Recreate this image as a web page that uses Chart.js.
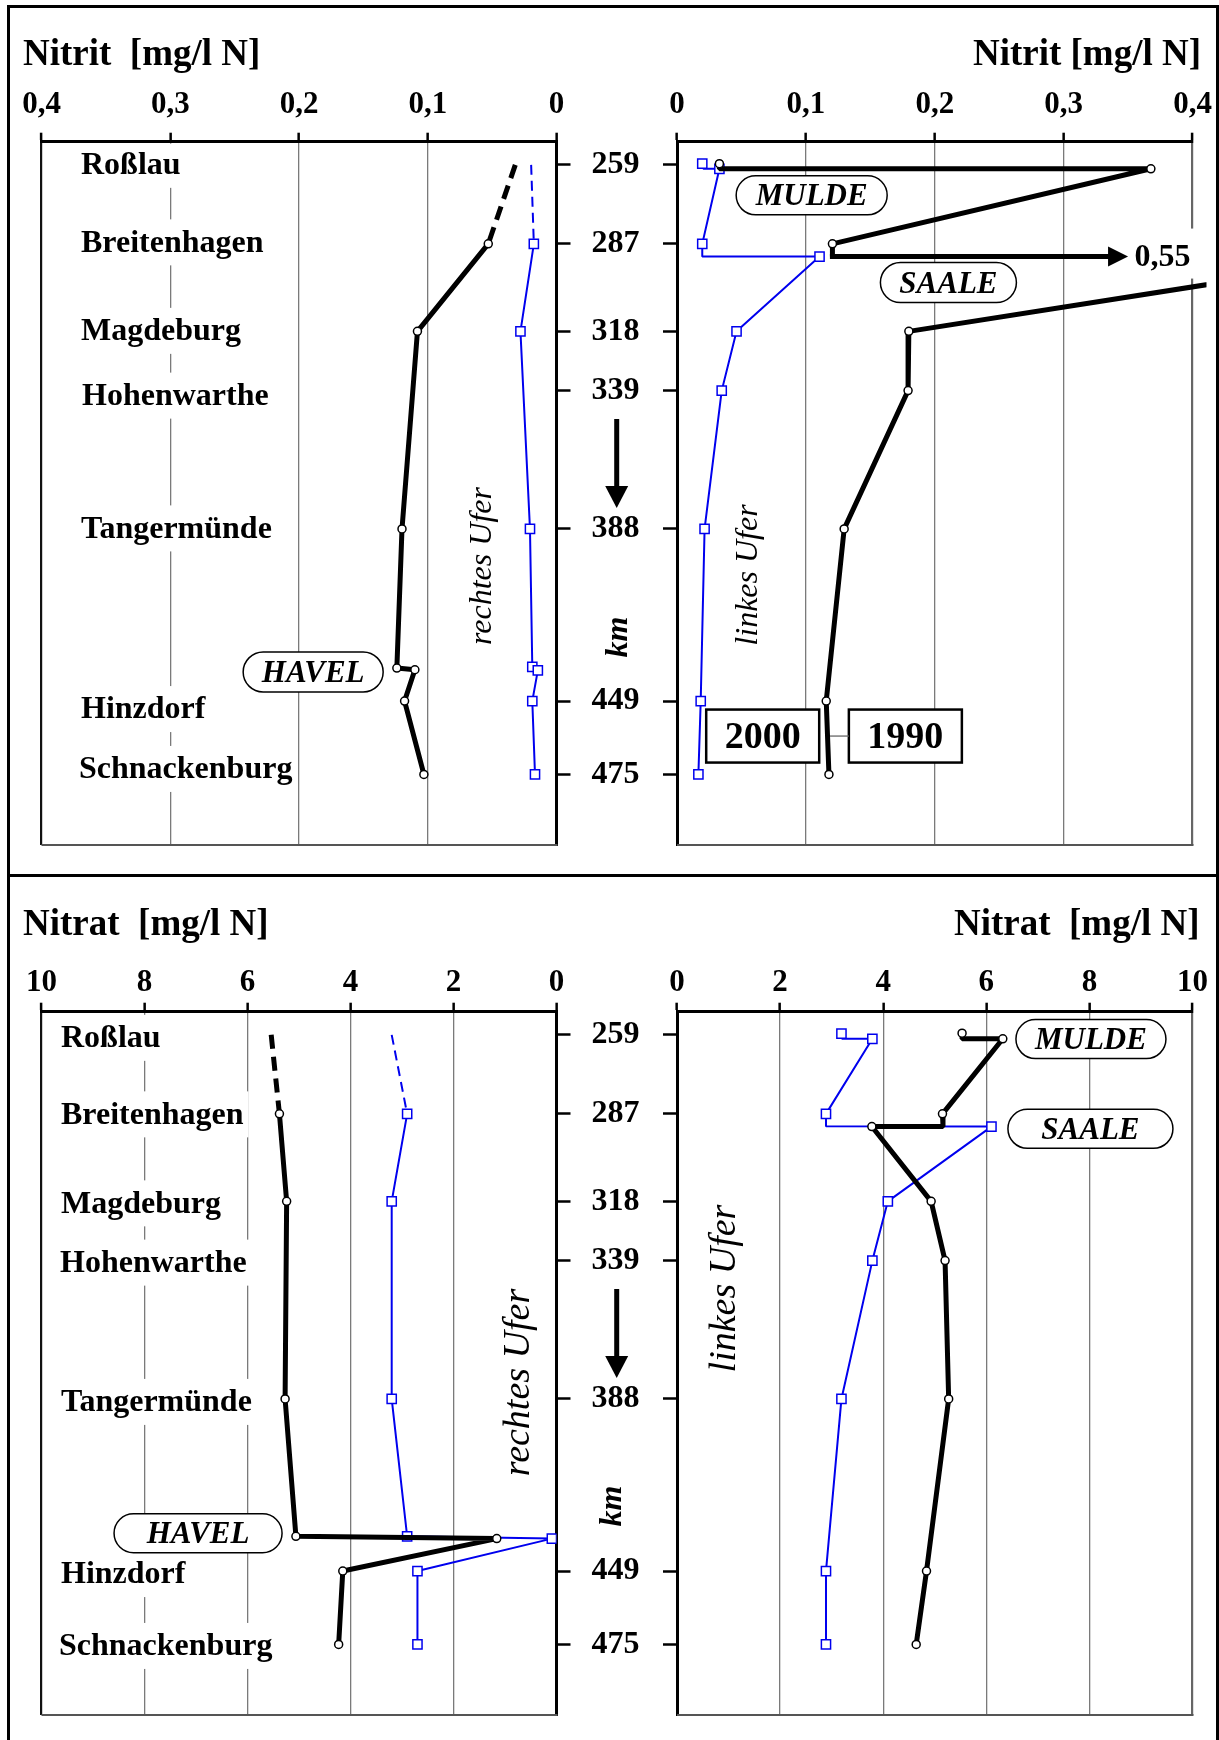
<!DOCTYPE html>
<html>
<head>
<meta charset="utf-8">
<script src="https://cdn.jsdelivr.net/npm/chart.js@4.4.1/dist/chart.umd.min.js"></script>
<style>
html,body{margin:0;padding:0;background:#fff;overflow:hidden;width:1219px;height:1740px;position:relative;}
canvas{position:absolute;}
#frame{position:absolute;left:7px;top:5px;width:1206px;height:1780px;border:3px solid #000;border-bottom:none;pointer-events:none;}
#divider{position:absolute;left:7px;top:874px;width:1212px;height:3px;background:#000;}
</style>
</head>
<body>
<canvas id="c1" width="640" height="886" style="left:0px;top:0px;width:640px;height:886px"></canvas>
<canvas id="c2" width="590" height="873" style="left:640px;top:0px;width:590px;height:873px"></canvas>
<canvas id="c3" width="640" height="879" style="left:0px;top:877px;width:640px;height:879px"></canvas>
<canvas id="c4" width="590" height="863" style="left:640px;top:877px;width:590px;height:863px"></canvas>
<div id="frame"></div>
<div id="divider"></div>
<script>
// ================= DATA =================
const stationNames = ['Roßlau', 'Breitenhagen', 'Magdeburg', 'Hohenwarthe', 'Tangermünde', 'Hinzdorf', 'Schnackenburg'];
const stationKm    = [259, 287, 318, 339, 388, 449, 475];
const nitritTickValues = [0, 0.1, 0.2, 0.3, 0.4];
const nitratTickValues = [0, 2, 4, 6, 8, 10];
const yearLabels = ['2000', '1990'];
const riverLabels = ['MULDE', 'SAALE', 'HAVEL'];

// Nitrit, rechtes Ufer (top left)
const nitritR1990Km     = [287, 318, 388, 437.3, 437.9, 449, 475];
const nitritR1990       = [0.053, 0.108, 0.120, 0.124, 0.110, 0.118, 0.103];
const nitritR1990DashKm = [259, 287];
const nitritR1990Dash   = [0.032, 0.053];
const nitritR2000Km     = [287, 318, 388, 436.9, 438.1, 449, 475];
const nitritR2000       = [0.0176, 0.028, 0.0206, 0.0188, 0.0145, 0.0188, 0.0167];
const nitritR2000DashKm = [259, 287];
const nitritR2000Dash   = [0.0197, 0.0176];

// Nitrit, linkes Ufer (top right)
const nitritL1990Km   = [258.6, 260.4, 260.4, 287, 291.5];
const nitritL1990     = [0.0329, 0.0329, 0.3677, 0.1206, 0.1206];
const nitritL1990Stn  = [1, 0, 1, 1, 0];
const nitritSaalePeak = 0.55;
const nitritL1990bKm  = [291.5, 318, 339, 388, 449, 475];
const nitritL1990b    = [nitritSaalePeak, 0.1799, 0.1793, 0.1297, 0.1158, 0.1179];
const nitritL1990bStn = [0, 1, 1, 1, 1, 1];
const nitritL2000Km   = [258.6, 260.4, 260.4, 287, 291.5, 291.5, 318, 339, 388, 449, 475];
const nitritL2000     = [0.0196, 0.0205, 0.0329, 0.0196, 0.0196, 0.1106, 0.0462, 0.0347, 0.0214, 0.0184, 0.0166];
const nitritL2000Stn  = [1, 0, 1, 1, 0, 1, 1, 1, 1, 1, 1];

// Nitrat, rechtes Ufer (bottom left)
const nitratR1990Km     = [287, 318, 388, 436.7, 437.5, 449, 475];
const nitratR1990       = [5.38, 5.24, 5.27, 5.06, 1.16, 4.15, 4.23];
const nitratR1990DashKm = [259, 287];
const nitratR1990Dash   = [5.54, 5.38];
const nitratR2000Km     = [287, 318, 388, 436.7, 437.5, 449, 475];
const nitratR2000       = [2.90, 3.20, 3.20, 2.90, 0.09, 2.70, 2.70];
const nitratR2000DashKm = [259, 287];
const nitratR2000Dash   = [3.20, 2.90];

// Nitrat, linkes Ufer (bottom right)
const nitratL1990Km  = [258.4, 260.4, 260.4, 287, 291.5, 291.5, 318, 339, 388, 449, 475];
const nitratL1990    = [5.53, 5.53, 6.32, 5.15, 5.16, 3.78, 4.93, 5.20, 5.27, 4.84, 4.64];
const nitratL1990Stn = [1, 0, 1, 1, 0, 1, 1, 1, 1, 1, 1];
const nitratL2000Km  = [258.6, 260.4, 260.4, 287, 291.4, 291.5, 318, 339, 388, 449, 475];
const nitratL2000    = [3.19, 3.20, 3.79, 2.89, 2.89, 6.10, 4.09, 3.79, 3.19, 2.89, 2.89];
const nitratL2000Stn = [1, 0, 1, 1, 0, 1, 1, 1, 1, 1, 1];

// ================= STYLE / HELPERS =================
const FONT = "'Liberation Serif', 'Times New Roman', serif";
const BLUE = '#0000ee';

function fmtTick(v) {
  const r = Math.round(v * 10) / 10;
  return r === 0 ? '0' : String(r).replace('.', ',');
}

function ser(vals, kms, stn, year, extra) {
  const black = year === '1990';
  return Object.assign({
    data: kms.map((k, i) => ({x: vals[i], y: k})),
    showLine: true,
    borderColor: black ? '#000' : BLUE,
    borderWidth: black ? 5 : 2,
    borderJoinStyle: 'bevel',
    borderCapStyle: 'butt',
    pointStyle: black ? 'circle' : 'rect',
    pointRadius: c => ((stn ? stn[c.dataIndex] : 1) ? (black ? 4 : 6.5) : 0),
    pointHoverRadius: 0,
    pointBackgroundColor: '#fff',
    pointBorderColor: black ? '#000' : BLUE,
    pointBorderWidth: 1.5,
    tension: 0
  }, extra || {});
}

function pill(ctx, x, y, w, h) {
  const r = h / 2;
  ctx.beginPath();
  ctx.moveTo(x + r, y);
  ctx.lineTo(x + w - r, y);
  ctx.arc(x + w - r, y + r, r, -Math.PI / 2, Math.PI / 2);
  ctx.lineTo(x + r, y + h);
  ctx.arc(x + r, y + r, r, Math.PI / 2, Math.PI * 1.5);
  ctx.closePath();
}

const decor = {
  id: 'decor',
  beforeDatasetsDraw(chart, args, o) {
    const ctx = chart.ctx, ca = chart.chartArea, ys = chart.scales.y;
    ctx.save();
    ctx.strokeStyle = '#555'; ctx.lineWidth = 2;
    ctx.beginPath(); ctx.moveTo(ca.left, ca.bottom); ctx.lineTo(ca.right + 1, ca.bottom); ctx.stroke();
    if (o.stations) {
      const s = o.stations;
      ctx.font = `bold 32px ${FONT}`; ctx.textBaseline = 'middle'; ctx.textAlign = 'left';
      stationNames.forEach((n, i) => {
        const y = ys.getPixelForValue(stationKm[i]) + s.dy[i];
        const x = s.x + s.dx[i];
        const w = ctx.measureText(n).width;
        const top = Math.max(y - 24, ca.top + 2);
        ctx.fillStyle = '#fff'; ctx.fillRect(x - 5, top, w + 10, y + 22 - top);
        ctx.fillStyle = '#000'; ctx.fillText(n, x, y);
      });
    }
    ctx.restore();
  },
  afterDatasetsDraw(chart, args, o) {
    const ctx = chart.ctx, xs = chart.scales.x, ys = chart.scales.y;
    ctx.save();
    if (o.hArrow) {
      const a = o.hArrow;
      const x0 = xs.getPixelForValue(a.from[0]), y0 = ys.getPixelForValue(a.from[1]);
      const x1 = xs.getPixelForValue(a.to);
      ctx.strokeStyle = '#000'; ctx.fillStyle = '#000'; ctx.lineWidth = 5;
      ctx.beginPath(); ctx.moveTo(x0 - 2.5, y0); ctx.lineTo(x1 - 16, y0); ctx.stroke();
      ctx.beginPath(); ctx.moveTo(x1, y0); ctx.lineTo(x1 - 20, y0 - 10); ctx.lineTo(x1 - 20, y0 + 10); ctx.closePath(); ctx.fill();
      ctx.font = `bold 32px ${FONT}`; ctx.textBaseline = 'middle'; ctx.textAlign = 'left';
      const lx = xs.getPixelForValue(a.labelAt);
      const w = ctx.measureText(a.label).width;
      ctx.fillStyle = '#fff'; ctx.fillRect(lx - 3, y0 - 28, w + 12, 50);
      ctx.fillStyle = '#000'; ctx.fillText(a.label, lx, y0 + 1);
    }
    (o.pills || []).forEach(p => {
      const cx = xs.getPixelForValue(p.v), cy = ys.getPixelForValue(p.km);
      pill(ctx, cx - p.w / 2, cy - p.h / 2, p.w, p.h);
      ctx.fillStyle = '#fff'; ctx.fill();
      ctx.strokeStyle = '#000'; ctx.lineWidth = 1.5; ctx.stroke();
      ctx.font = `italic bold 31px ${FONT}`; ctx.textAlign = 'center'; ctx.textBaseline = 'middle';
      ctx.fillStyle = '#000'; ctx.fillText(p.text, cx, cy + 2);
    });
    if (o.legend) {
      const L = o.legend;
      L.boxes.forEach((b, i) => {
        const cx = xs.getPixelForValue(b.v), cy = ys.getPixelForValue(L.km);
        ctx.fillStyle = '#fff'; ctx.fillRect(cx - L.w / 2, cy - L.h / 2, L.w, L.h);
        ctx.strokeStyle = '#000'; ctx.lineWidth = 2.5; ctx.strokeRect(cx - L.w / 2, cy - L.h / 2, L.w, L.h);
        ctx.font = `bold 38px ${FONT}`; ctx.textAlign = 'center'; ctx.textBaseline = 'middle';
        ctx.fillStyle = '#000'; ctx.fillText(yearLabels[i], cx, cy + 2);
      });
      const lb = L.boxes[L.leader.box];
      const y = ys.getPixelForValue(L.km);
      ctx.strokeStyle = '#666'; ctx.lineWidth = 1.3;
      ctx.beginPath(); ctx.moveTo(xs.getPixelForValue(L.leader.from) + 2.5, y);
      ctx.lineTo(xs.getPixelForValue(lb.v) - L.w / 2, y); ctx.stroke();
    }
    ctx.restore();
  },
  afterDraw(chart, args, o) {
    const ctx = chart.ctx;
    ctx.save();
    if (o.title) {
      ctx.font = `bold 37px ${FONT}`; ctx.textBaseline = 'alphabetic';
      ctx.textAlign = o.title.align; ctx.fillStyle = '#000';
      ctx.fillText(o.title.text, o.title.x, o.title.y);
    }
    (o.rot || []).forEach(r => {
      ctx.save();
      ctx.translate(r.x, r.y); ctx.rotate(-Math.PI / 2);
      ctx.font = r.font; ctx.textAlign = 'center'; ctx.textBaseline = 'alphabetic';
      ctx.fillStyle = '#000'; ctx.fillText(r.text, 0, 0);
      ctx.restore();
    });
    if (o.down) {
      const d = o.down;
      ctx.strokeStyle = '#000'; ctx.fillStyle = '#000'; ctx.lineWidth = 5;
      ctx.beginPath(); ctx.moveTo(d.x, d.y1); ctx.lineTo(d.x, d.y2 - 18); ctx.stroke();
      ctx.beginPath(); ctx.moveTo(d.x, d.y2); ctx.lineTo(d.x - 11.5, d.y2 - 22); ctx.lineTo(d.x + 11.5, d.y2 - 22); ctx.closePath(); ctx.fill();
    }
    ctx.restore();
  }
};

function makeChart(id, cfg) {
  const edge = cfg.edgeValue;
  return new Chart(document.getElementById(id), {
    type: 'scatter',
    data: {datasets: cfg.datasets},
    options: {
      responsive: false,
      maintainAspectRatio: false,
      animation: false,
      events: [],
      layout: {autoPadding: false, padding: cfg.padding},
      plugins: {legend: {display: false}, tooltip: {enabled: false}, decor: cfg.decor},
      scales: {
        x: {
          type: 'linear', position: 'top',
          min: cfg.xMin, max: cfg.xMax, reverse: cfg.reverse,
          afterFit: s => { s.height = 50; },
          afterBuildTicks: s => { s.ticks = cfg.xTicks.map(v => ({value: v})); },
          ticks: {
            font: {family: FONT, size: 31, weight: 'bold'}, color: '#000',
            padding: cfg.xPad, callback: fmtTick, maxRotation: 0, minRotation: 0, autoSkip: false
          },
          grid: {
            color: c => (c.tick && Math.abs(c.tick.value - edge) < 1e-9) ? cfg.edgeColor : '#7a7a7a',
            lineWidth: c => (c.tick && Math.abs(c.tick.value - edge) < 1e-9) ? 2.2 : 1.3,
            drawTicks: true, tickLength: 9, tickColor: '#000', tickWidth: 2.5
          },
          border: {display: true, color: '#000', width: 3}
        },
        y: {
          type: 'linear', position: cfg.yPos,
          min: 250.8, max: 500, reverse: true,
          afterFit: s => { s.width = cfg.yWidth; },
          afterBuildTicks: s => { s.ticks = stationKm.map(v => ({value: v})); },
          ticks: {
            display: cfg.yLabels,
            font: {family: FONT, size: 32, weight: 'bold'}, color: '#000',
            padding: 21, crossAlign: 'center', autoSkip: false,
            callback: v => String(v)
          },
          grid: {drawOnChartArea: false, drawTicks: true, tickLength: 14, tickColor: '#000', tickWidth: 2.5, color: '#000'},
          border: {display: true, color: '#000', width: 3}
        }
      }
    },
    plugins: [decor]
  });
}

const ITAL32 = `italic 32px ${FONT}`;
const ITAL38 = `italic 38px ${FONT}`;
const KMFONT = `italic bold 32px ${FONT}`;

// ---- top left: Nitrit rechtes Ufer ----
makeChart('c1', {
  xMin: 0, xMax: 0.4, reverse: true, xTicks: nitritTickValues, xPad: 9.5,
  edgeValue: 0.4, edgeColor: '#111',
  yPos: 'right', yWidth: 83.5, yLabels: true,
  padding: {left: 41.5, top: 91.7, right: 0, bottom: 41},
  datasets: [
    ser(nitritR1990, nitritR1990Km, null, '1990'),
    ser(nitritR1990Dash, nitritR1990DashKm, [0, 0], '1990', {borderDash: [14, 8]}),
    ser(nitritR2000, nitritR2000Km, null, '2000'),
    ser(nitritR2000Dash, nitritR2000DashKm, [0, 0], '2000', {borderDash: [10, 6]})
  ],
  decor: {
    title: {text: 'Nitrit  [mg/l N]', x: 23, y: 65, align: 'left'},
    stations: {x: 80, dx: [1, 1, 1, 2, 1, 1, -1], dy: [1, -0.5, 0.5, 6, 0.5, 9, -4.5]},
    pills: [{text: riverLabels[2], v: 0.189, km: 438.7, w: 140, h: 40}],
    rot: [
      {text: 'rechtes Ufer', x: 491, y: 566, font: ITAL32},
      {text: 'km', x: 627, y: 637, font: KMFONT}
    ],
    down: {x: 616.7, y1: 419, y2: 508}
  }
});

// ---- top right: Nitrit linkes Ufer ----
makeChart('c2', {
  xMin: 0, xMax: 0.4, reverse: false, xTicks: nitritTickValues, xPad: 9.5,
  edgeValue: 0.4, edgeColor: '#666',
  yPos: 'left', yWidth: 37, yLabels: false,
  padding: {left: 0, top: 91.7, right: 37.5, bottom: 28},
  datasets: [
    ser(nitritL1990, nitritL1990Km, nitritL1990Stn, '1990'),
    ser(nitritL1990b, nitritL1990bKm, nitritL1990bStn, '1990', {clip: {left: 3, top: 3, right: 14, bottom: 3}}),
    ser(nitritL2000, nitritL2000Km, nitritL2000Stn, '2000')
  ],
  decor: {
    title: {text: 'Nitrit [mg/l N]', x: 561, y: 65, align: 'right'},
    hArrow: {from: [nitritL1990[4], nitritL1990Km[4]], to: 0.35, labelAt: 0.355,
             label: String(nitritSaalePeak).replace('.', ',')},
    pills: [
      {text: riverLabels[0], v: 0.1045, km: 269.8, w: 151, h: 39},
      {text: riverLabels[1], v: 0.2106, km: 300.7, w: 136, h: 40}
    ],
    legend: {km: 461.4, w: 113, h: 53, boxes: [{v: 0.0665}, {v: 0.1772}], leader: {from: 0.1168, box: 1}},
    rot: [{text: 'linkes Ufer', x: 117, y: 575, font: ITAL32}]
  }
});

// ---- bottom left: Nitrat rechtes Ufer ----
makeChart('c3', {
  xMin: 0, xMax: 10, reverse: true, xTicks: nitratTickValues, xPad: 1.5,
  edgeValue: 10, edgeColor: '#111',
  yPos: 'right', yWidth: 83.5, yLabels: true,
  padding: {left: 41.5, top: 84.7, right: 0, bottom: 41},
  datasets: [
    ser(nitratR1990, nitratR1990Km, null, '1990'),
    ser(nitratR1990Dash, nitratR1990DashKm, [0, 0], '1990', {borderDash: [14, 8]}),
    ser(nitratR2000, nitratR2000Km, null, '2000'),
    ser(nitratR2000Dash, nitratR2000DashKm, [0, 0], '2000', {borderDash: [10, 6]})
  ],
  decor: {
    title: {text: 'Nitrat  [mg/l N]', x: 23, y: 58, align: 'left'},
    stations: {x: 60, dx: [1, 1, 1, 0, 1, 1, -1], dy: [4, 1.5, 3, 3, 4, 4, 2.5]},
    pills: [{text: riverLabels[2], v: 6.96, km: 435.6, w: 168, h: 39}],
    rot: [
      {text: 'rechtes Ufer', x: 529, y: 505.5, font: ITAL38},
      {text: 'km', x: 621, y: 629, font: KMFONT}
    ],
    down: {x: 616.7, y1: 412, y2: 501}
  }
});

// ---- bottom right: Nitrat linkes Ufer ----
makeChart('c4', {
  xMin: 0, xMax: 10, reverse: false, xTicks: nitratTickValues, xPad: 1.5,
  edgeValue: 10, edgeColor: '#666',
  yPos: 'left', yWidth: 37, yLabels: false,
  padding: {left: 0, top: 84.7, right: 37.5, bottom: 25},
  datasets: [
    ser(nitratL1990, nitratL1990Km, nitratL1990Stn, '1990'),
    ser(nitratL2000, nitratL2000Km, nitratL2000Stn, '2000')
  ],
  decor: {
    title: {text: 'Nitrat  [mg/l N]', x: 559.5, y: 58, align: 'right'},
    pills: [
      {text: riverLabels[0], v: 8.03, km: 260.5, w: 150, h: 39},
      {text: riverLabels[1], v: 8.02, km: 292.3, w: 165, h: 39}
    ],
    rot: [{text: 'linkes Ufer', x: 95.3, y: 411.5, font: ITAL38}]
  }
});
</script>
</body>
</html>
